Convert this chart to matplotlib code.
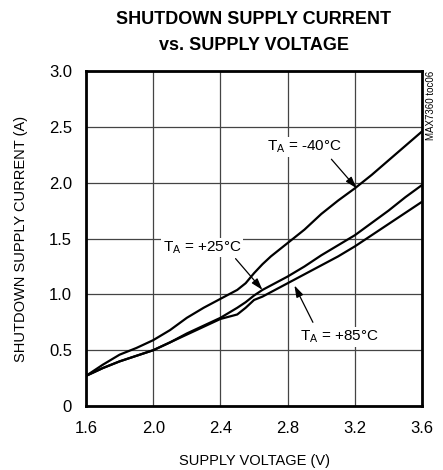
import matplotlib
matplotlib.use("Agg")
from matplotlib import pyplot as plt
from matplotlib import font_manager

names = {f.name for f in font_manager.fontManager.ttflist}
fam = [n for n in ["Liberation Sans Narrow", "Liberation Sans", "DejaVu Sans"] if n in names]
plt.rcParams['font.family'] = fam
plt.rcParams['mathtext.fontset'] = 'custom'
plt.rcParams['mathtext.rm'] = fam[0]

# supply voltage (V)
voltage = [1.6, 1.7, 1.8, 1.9, 2.0, 2.1, 2.2, 2.3, 2.4, 2.5, 2.55, 2.6, 2.65,
           2.7, 2.8, 2.9, 3.0, 3.1, 3.2, 3.3, 3.4, 3.5, 3.6]
# shutdown supply current per temperature
i_m40 = [0.27, 0.37, 0.46, 0.52, 0.59, 0.68, 0.79, 0.88, 0.96, 1.04, 1.10, 1.19, 1.27,
         1.34, 1.46, 1.58, 1.72, 1.84, 1.95, 2.07, 2.20, 2.33, 2.46]
i_p25 = [0.27, 0.34, 0.40, 0.45, 0.50, 0.57, 0.65, 0.72, 0.79, 0.88, 0.93, 0.99, 1.04,
         1.08, 1.16, 1.25, 1.35, 1.44, 1.53, 1.64, 1.75, 1.87, 1.98]
i_p85 = [0.27, 0.34, 0.40, 0.45, 0.50, 0.57, 0.64, 0.71, 0.78, 0.82, 0.88, 0.95, 0.98,
         1.02, 1.10, 1.18, 1.26, 1.34, 1.43, 1.53, 1.63, 1.73, 1.83]

xticks = [1.6, 2.0, 2.4, 2.8, 3.2, 3.6]
yticks = [0, 0.5, 1.0, 1.5, 2.0, 2.5, 3.0]
ylabels = ["0", "0.5", "1.0", "1.5", "2.0", "2.5", "3.0"]

fig = plt.figure(figsize=(4.43, 4.70), dpi=100)
ax = fig.add_axes([0.194, 0.136, 0.759, 0.713])

for c in [i_m40, i_p25, i_p85]:
    ax.plot(voltage, c, color='black', lw=1.6, solid_capstyle='round')

ax.set_xlim(1.6, 3.6)
ax.set_ylim(0, 3.0)
ax.set_xticks(xticks)
ax.set_xticklabels([f"{v:.1f}" for v in xticks])
ax.set_yticks(yticks)
ax.set_yticklabels(ylabels)
ax.tick_params(length=0, labelsize=12)
ax.tick_params(axis='x', pad=11)
ax.tick_params(axis='y', pad=10)
ax.grid(True, color='#444444', lw=0.9)
ax.set_axisbelow(True)
for s in ax.spines.values():
    s.set_linewidth(2.0)

ax.set_xlabel("SUPPLY VOLTAGE (V)", fontsize=10.5, labelpad=13)
ax.set_ylabel("SHUTDOWN SUPPLY CURRENT (A)", fontsize=10.5, labelpad=15)

fig.text(0.573, 0.977, "SHUTDOWN SUPPLY CURRENT\nvs. SUPPLY VOLTAGE",
         ha='center', va='top', fontsize=13, fontweight='bold', linespacing=1.7)
fig.text(0.972, 0.849, "MAX7360 toc06", rotation=90, ha='center', va='top', fontsize=7)

arrow = dict(arrowstyle='-|>,head_length=0.7,head_width=0.22', color='black', lw=0.9,
             shrinkA=0, shrinkB=0)
box = dict(boxstyle='square,pad=0.1', fc='white', ec='none')
ax.text(2.90, 2.32, r"T$_\mathregular{A}$ = -40°C", ha='center', va='center',
        fontsize=11, bbox=box)
ax.annotate("", xy=(3.21, 1.95), xytext=(3.06, 2.21), arrowprops=arrow)
ax.text(2.29, 1.42, r"T$_\mathregular{A}$ = +25°C", ha='center', va='center',
        fontsize=11, bbox=box)
ax.annotate("", xy=(2.65, 1.04), xytext=(2.49, 1.32), arrowprops=arrow)
ax.text(3.11, 0.62, r"T$_\mathregular{A}$ = +85°C", ha='center', va='center',
        fontsize=11, bbox=box)
ax.annotate("", xy=(2.84, 1.08), xytext=(2.95, 0.75), arrowprops=arrow)

fig.savefig("out.png", dpi=100)
